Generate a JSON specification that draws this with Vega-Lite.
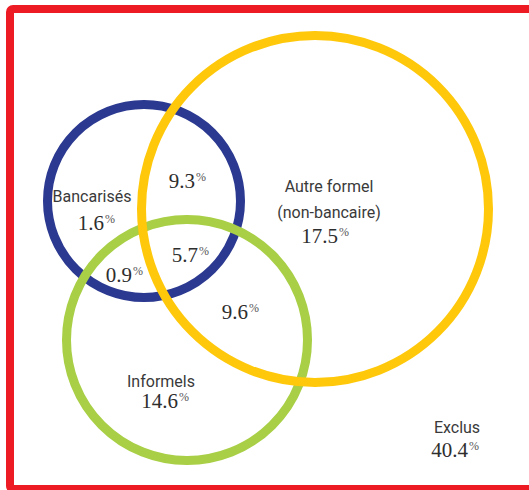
{
  "$schema": "https://vega.github.io/schema/vega-lite/v6.json",
  "width": 529,
  "height": 490,
  "padding": 0,
  "autosize": "none",
  "background": "white",
  "config": {"view": {"stroke": null}},
  "datasets": {
    "frame": [{"x": 10, "x2": 533, "y": 9, "y2": 489}],
    "circles": [
      {"set": "Bancarisés", "cx": 144, "cy": 201, "diameter": 193},
      {"set": "Informels", "cx": 187, "cy": 340, "diameter": 241},
      {"set": "Autre formel", "cx": 315, "cy": 209, "diameter": 347}
    ],
    "names": [
      {"text": "Bancarisés", "cx": 92, "cy": 202},
      {"text": "Autre formel", "cx": 329, "cy": 192},
      {"text": "(non-bancaire)", "cx": 329, "cy": 218},
      {"text": "Informels", "cx": 161, "cy": 387},
      {"text": "Exclus", "cx": 457, "cy": 433}
    ],
    "shares": [
      {"segment": "Bancarisés seulement", "value": 1.6, "cx": 104, "cy": 230},
      {"segment": "Bancarisés + Autre formel", "value": 9.3, "cx": 195, "cy": 188},
      {"segment": "Les trois", "value": 5.7, "cx": 198, "cy": 262},
      {"segment": "Bancarisés + Informels", "value": 0.9, "cx": 132, "cy": 282},
      {"segment": "Autre formel + Informels", "value": 9.6, "cx": 248, "cy": 319},
      {"segment": "Autre formel seulement", "value": 17.5, "cx": 338, "cy": 243},
      {"segment": "Informels seulement", "value": 14.6, "cx": 178, "cy": 408},
      {"segment": "Exclus", "value": 40.4, "cx": 468, "cy": 457}
    ]
  },
  "layer": [
    {
      "data": {"name": "frame"},
      "mark": {"type": "rect", "fill": "white", "fillOpacity": 0, "stroke": "#ED1C24", "strokeWidth": 8, "cornerRadius": 3},
      "encoding": {
        "x": {"field": "x", "type": "quantitative", "scale": {"domain": [0, 529], "nice": false, "zero": false}, "axis": null},
        "x2": {"field": "x2"},
        "y": {"field": "y", "type": "quantitative", "scale": {"domain": [0, 490], "nice": false, "zero": false, "reverse": true}, "axis": null},
        "y2": {"field": "y2"}
      }
    },
    {
      "data": {"name": "circles"},
      "mark": {"type": "point", "shape": "circle", "filled": false, "strokeWidth": 9, "opacity": 1},
      "encoding": {
        "x": {"field": "cx", "type": "quantitative"},
        "y": {"field": "cy", "type": "quantitative"},
        "size": {"field": "diameter", "type": "quantitative", "scale": {"type": "pow", "exponent": 2, "domain": [0, 529], "range": [0, 279841]}, "legend": null},
        "stroke": {"field": "set", "type": "nominal", "scale": {"domain": ["Bancarisés", "Informels", "Autre formel"], "range": ["#2B3990", "#A8CF45", "#FFC80B"]}, "legend": null},
        "order": {"field": "diameter", "type": "quantitative"}
      }
    },
    {
      "data": {"name": "names"},
      "mark": {"type": "text", "align": "center", "baseline": "alphabetic", "font": "Roboto, sans-serif", "fontSize": 16, "fill": "#3a3a3a"},
      "encoding": {
        "x": {"field": "cx", "type": "quantitative"},
        "y": {"field": "cy", "type": "quantitative"},
        "text": {"field": "text", "type": "nominal"}
      }
    },
    {
      "data": {"name": "shares"},
      "mark": {"type": "text", "align": "right", "baseline": "alphabetic", "font": "Liberation Serif, DejaVu Serif, serif", "fontSize": 21, "fill": "#2e2e2e"},
      "encoding": {
        "x": {"field": "cx", "type": "quantitative"},
        "y": {"field": "cy", "type": "quantitative"},
        "text": {"field": "value", "type": "quantitative", "format": ".1f"}
      }
    },
    {
      "data": {"name": "shares"},
      "mark": {"type": "text", "text": "%", "align": "left", "baseline": "alphabetic", "dx": 1, "dy": -7, "font": "Liberation Serif, DejaVu Serif, serif", "fontSize": 12, "fill": "#555555"},
      "encoding": {
        "x": {"field": "cx", "type": "quantitative"},
        "y": {"field": "cy", "type": "quantitative"}
      }
    }
  ]
}
